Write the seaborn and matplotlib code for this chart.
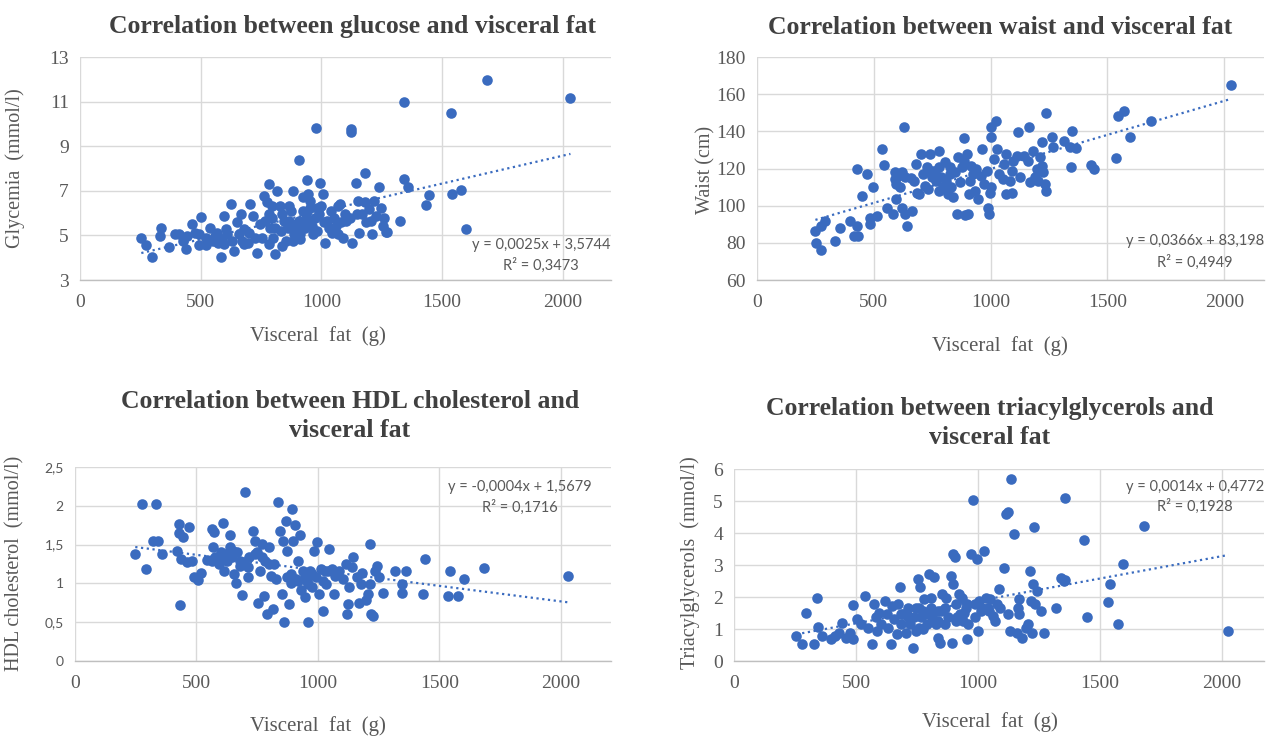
import numpy as np
import pandas as pd
import matplotlib
matplotlib.use("Agg")
import matplotlib.pyplot as plt
import seaborn as sns

# ---------------- data ----------------
glucose_x = [1687, 2032, 1344, 1536, 976, 1122, 1122, 907, 1179, 1344, 1361, 1444, 1540, 1579, 1433, 1600, 1325, 1268,
             254, 274, 297, 337, 330, 368, 411, 425, 440, 466, 477, 502, 491, 520, 537, 559, 573, 584, 595, 606,
             624, 630, 637, 652, 669, 680, 695, 706, 716, 735, 745, 764, 774, 784, 781, 788, 798, 809, 817, 827,
             838, 845, 860, 874, 881, 888, 907, 917, 924, 941, 946, 951, 953, 964, 974, 993, 999, 1005, 1010, 1017,
             1032, 1053, 1068, 1079, 1089, 1104, 1118, 1128, 1142, 1151, 1157, 1168, 1179, 1185, 1197, 1211, 1218,
             1228, 1237, 1247, 1254, 1271, 1261,
             566, 588, 609, 659, 673, 702, 723, 752, 766, 795, 809, 831, 853, 867, 881, 896, 910, 924, 931, 938,
             961, 982, 989, 1024, 1046, 1060, 1082, 1096, 853, 881, 910, 781, 680, 552, 595, 494, 523, 444, 394,
             795, 838, 867, 924, 953, 982, 1039, 1068, 1147, 1204]
glucose_y = [11.97, 11.16, 10.97, 10.48, 9.8, 9.77, 9.62, 8.38, 7.81, 7.52, 7.15, 6.8, 6.85, 7.05, 6.36, 5.28, 5.65, 5.16,
             4.87, 4.57, 4.03, 5.31, 4.98, 4.48, 5.08, 4.75, 4.38, 5.53, 5.13, 5.83, 4.57, 4.57, 5.35, 4.98, 4.68, 4.03,
             5.88, 5.28, 6.4, 4.75, 4.3, 5.58, 5.95, 5.28, 4.68, 6.43, 5.88, 4.22, 5.5, 6.78, 6.48, 7.3, 5.95, 5.35,
             4.9, 4.15, 6.99, 6.33, 4.53, 5.65, 5.35, 6.1, 6.99, 5.05, 5.65, 5.35, 6.1, 7.48, 6.85, 6.25, 5.65, 5.05,
             5.8, 7.37, 6.33, 6.85, 5.58, 4.68, 5.35, 5.8, 5.05, 6.4, 4.9, 5.65, 5.8, 4.68, 7.33, 6.55, 5.13, 5.95,
             6.48, 5.58, 6.18, 5.05, 6.55, 5.88, 7.18, 6.25, 5.43, 5.17, 5.8,
             5.13, 4.83, 5.05, 5.05, 4.75, 5.13, 4.9, 4.9, 5.65, 5.8, 5.35, 5.2, 5.58, 5.65, 5.35, 5.5, 5.05, 5.58,
             5.35, 5.95, 5.43, 5.2, 5.95, 5.65, 5.13, 5.43, 5.58, 5.95, 4.75, 4.75, 4.83, 4.6, 4.6, 4.75, 4.6, 5.05,
             4.9, 4.98, 5.05, 6.33, 5.95, 6.33, 6.7, 6.55, 6.25, 6.1, 6.33, 5.95, 5.65]

waist_x = [2030, 1686, 1572, 1545, 1595, 1537, 1237, 1348, 1343, 1431, 1443, 1313, 1340, 1367, 1264, 1269, 1218,
           1024, 1003, 1003, 1165, 1119, 631, 536, 543, 429, 470, 498, 448,
           293, 276, 250, 252, 276, 335, 357, 399, 414, 432, 429, 482, 482, 513, 558, 582, 593, 589, 589, 596,
           619, 611, 634, 640, 665, 658, 685, 681, 704, 719,
           734, 750, 742, 762, 777, 780, 777, 795, 804, 810, 819, 824, 839, 854, 869, 884, 884, 897, 907, 912,
           923, 932, 938, 892, 903, 944, 957, 964, 973, 983, 987, 994, 999, 1003, 1014, 1029, 1052, 1059, 1064, 1067,
           1090, 1090, 1097, 1112, 1124, 1142, 1158, 1170, 1181, 1188, 1200, 1211, 1221, 1226, 1234, 1237, 1203,
           710, 726, 750, 765, 788, 824, 831, 846, 861, 876, 915, 672, 695, 634, 619, 604, 1036, 1082]
waist_y = [164.7, 145.8, 151.2, 148, 136.8, 125.6, 149.7, 140, 121, 122, 119.7, 135, 131.8, 131, 136.8, 131.4, 134,
           145.4, 142.6, 136.8, 142.2, 139.5, 142.6, 130.5, 122, 119.9, 117, 109.8, 105.3,
           91.8, 89.1, 86.4, 80, 76, 81, 88.2, 91.8, 83.7, 83.7, 89, 90, 93.6, 94.5, 99, 95.4, 103.5, 114.3, 117.9,
           111.6, 99, 110, 95.4, 89.1, 97.2, 114.8, 107, 122.4, 127.8, 110.7,
           109, 115.2, 127.8, 118.8, 129.6, 120.6, 108, 109.8, 123.3, 113.4, 106.2, 117, 104.4, 95.4, 112.5, 124.2,
           136.3, 128, 106.2, 113.4,
           117, 108, 119.7, 95, 95.4, 103.5, 116, 130.5, 111.6, 118.8, 99, 95.4, 107, 109.8, 125.1, 130.5, 114.3,
           122.4, 127.8, 106.2,
           107, 118.8, 124.2, 126.9, 115.2, 126.9, 124.2, 112.5, 129.6, 115.2, 119.7, 126, 121.5, 118, 111.6, 108,
           113.4,
           117, 120.6, 118.8, 113.4, 115.2, 120.6, 109.8, 117.9, 126, 120.6, 121.5, 113.4, 106.2, 115.2, 118, 116,
           117, 113.4]

hdl_x = [248, 274, 333, 293, 322, 340, 358, 419, 429, 429, 444, 436, 433, 470, 461, 481, 491, 506, 518, 544,
         562, 574, 569, 577, 592, 599, 609, 614, 624, 636, 636, 648, 654, 663, 666, 678, 688, 698, 695, 710,
         717, 732, 740, 747, 754, 762, 769, 776, 784, 791, 799, 806, 813, 821, 828, 835, 843, 850, 858, 862,
         869, 872, 880, 887, 895, 899, 905, 909, 917, 924, 932, 939, 947, 954, 961, 969, 976, 983, 991, 998,
         1006, 1013, 1021, 1028, 1035, 1047, 1058, 1065, 1072, 1087, 1102, 1117, 1121, 1124, 1127, 1139, 1146,
         1161, 1168, 1176, 1183, 1198, 1205, 1213, 1216, 1220, 1228, 1235, 1242, 1250, 1269, 1316, 1346, 1361,
         1346, 1432, 1442, 1535, 1543, 1576, 1601, 1683, 2029, 917, 947, 961, 976, 1021, 1043, 1080,
         887, 872, 799, 769, 740, 710, 680, 651, 621, 592, 562]
hdl_y = [1.38, 2.02, 2.02, 1.19, 1.54, 1.54, 1.38, 1.42, 1.65, 1.77, 1.6, 1.31, 0.72, 1.73, 1.28, 1.29, 1.08, 1.04,
         1.14, 1.3, 1.70, 1.66, 1.47, 1.34, 1.25, 1.4, 1.78, 1.16, 1.29, 1.62, 1.47, 1.34, 1.12, 1.01, 1.4, 1.23,
         0.85, 2.18, 1.27, 1.08, 1.34, 1.68, 1.55, 1.4, 0.75, 1.16, 1.51, 0.84, 1.29, 0.6, 1.47, 1.1, 0.67, 1.25,
         1.06, 2.05, 1.68, 0.86, 1.55, 0.5, 1.81, 1.42, 0.73, 1.12, 1.96, 1.55, 1.75, 1.06, 1.29, 1.62, 0.91,
         1.16, 0.82, 1.03, 0.5, 1.16, 0.95, 1.42, 1.08, 1.53, 0.86, 1.19, 0.65, 1.16, 0.99, 1.44, 1.19, 0.86,
         1.1, 1.16, 1.06, 1.25, 0.6, 0.73, 0.95, 1.21, 1.34, 1.08, 0.75, 0.99, 1.14, 0.78, 0.86, 0.99, 1.51,
         0.6, 0.58, 1.16, 1.23, 1.08, 0.88, 1.16, 0.99, 1.16, 0.88, 0.86, 1.31, 0.84, 1.16, 0.84, 1.06, 1.2,
         1.09, 1.03, 1.08, 0.99, 1.12, 1.03, 1.16, 1.14, 1.01, 1.08, 1.25, 1.34, 1.38, 1.21, 1.29, 1.42, 1.38,
         1.34, 1.29]

tag_x = [256, 279, 294, 327, 339, 346, 361, 399, 414, 429, 444, 459, 474, 486, 489, 505, 520, 538, 550, 565,
         572, 580, 587, 595, 602, 617, 625, 632, 643, 648, 655, 667, 673, 682, 685, 693, 703, 712, 723, 733,
         738, 745, 753, 758, 764, 768, 773, 779, 783, 791, 798, 806, 813, 821, 828, 836, 843, 848, 854, 863,
         869, 878, 889, 893, 896, 899, 904, 911, 914, 923, 934, 938, 941, 949, 953, 959, 971, 979, 986, 994,
         998, 1004, 1013, 1024, 1032, 1040, 1050, 1062, 1069, 1084, 1089, 1107, 1115, 1122, 1130, 1134, 1149,
         1160, 1164, 1167, 1170, 1182, 1197, 1205, 1213, 1216, 1220, 1224, 1231, 1235, 1240, 1257, 1270, 1318,
         1340, 1351, 1356, 1358, 1434, 1446, 1531, 1540, 1573, 1596, 1682, 2026, 836, 866, 926, 956, 986, 1016,
         1047, 1077, 806, 776, 745, 715, 685, 836, 911, 760, 1122]
tag_y = [0.78, 0.52, 1.51, 0.54, 1.98, 1.06, 0.78, 0.68, 0.78, 0.89, 1.2, 0.73, 0.89, 1.75, 0.68, 1.3, 1.15, 2.04,
         1.04, 0.52, 1.77, 1.36, 0.94, 1.51, 1.15, 1.88, 1.46, 1.04, 0.54, 1.72, 1.3, 0.84, 1.77, 2.32, 1.15, 1.46,
         0.89, 1.36, 1.15, 0.42, 1.36, 0.94, 2.56, 1.67, 2.3, 1.36, 0.99, 1.93, 1.46, 1.15, 2.71, 1.67, 1.36, 2.61,
         1.15, 0.73, 0.57, 1.57, 2.09, 1.15, 1.98, 1.36, 2.66, 0.57, 2.4, 3.34, 3.24, 1.77, 1.36, 2.09, 1.98, 1.25,
         1.51, 1.67, 0.68, 1.15, 3.34, 5.03, 1.36, 3.18, 0.94, 1.88, 1.57, 3.44, 1.98, 1.67, 1.93, 1.41, 1.25, 2.24,
         1.67, 2.92, 4.59, 1.46, 0.94, 5.69, 3.97, 0.89, 1.67, 1.93, 1.46, 0.73, 1.04, 1.15, 2.82, 1.88, 0.89, 2.4,
         4.18, 1.77, 2.19, 1.57, 0.89, 1.67, 2.59, 2.5, 5.09, 2.53, 3.78, 1.36, 1.83, 2.42, 1.15, 3.03, 4.23, 0.94,
         1.57, 1.67, 1.46, 1.77, 1.77, 1.67, 1.57, 1.77, 1.98, 1.57, 1.67, 1.67, 1.46, 1.25, 1.25, 1.04, 4.65]

titles = ["Correlation between glucose and visceral fat",
          "Correlation between waist and visceral fat",
          "Correlation between HDL cholesterol and\nvisceral fat",
          "Correlation between triacylglycerols and\nvisceral fat"]
y_labels = ["Glycemia  (mmol/l)", "Waist (cm)", "HDL cholesterol  (mmol/l)", "Triacylglycerols  (mmol/l)"]
x_label = "Visceral  fat  (g)"
slopes = [0.0025, 0.0366, -0.0004, 0.0014]
intercepts = [3.5744, 83.198, 1.5679, 0.4772]
eq_texts = ["y = 0,0025x + 3,5744", "y = 0,0366x + 83,198", "y = -0,0004x + 1,5679", "y = 0,0014x + 0,4772"]
r2_texts = ["R² = 0,3473", "R² = 0,4949", "R² = 0,1716", "R² = 0,1928"]
x_ticks = [0, 500, 1000, 1500, 2000]
y_ticks = [[3, 5, 7, 9, 11, 13], [60, 80, 100, 120, 140, 160, 180],
           [0, 0.5, 1, 1.5, 2, 2.5], [0, 1, 2, 3, 4, 5, 6]]
y_tick_labels = [["3", "5", "7", "9", "11", "13"], ["60", "80", "100", "120", "140", "160", "180"],
                 ["0", "0,5", "1", "1,5", "2", "2,5"], ["0", "1", "2", "3", "4", "5", "6"]]

# ---------------- style ----------------
sns.set_theme(style="white")
plt.rcParams["font.family"] = ["Liberation Serif", "DejaVu Serif"]

W, H = 1266, 738
fig = plt.figure(figsize=(W / 100, H / 100), dpi=100)
fig.patch.set_facecolor("white")

BLUE = "#3a6bbf"
GRID = "#d9d9d9"
TXT = "#595959"
TTL = "#404040"


def fx(x):
    return x / W


def fy(y):
    return 1 - y / H


# axes boxes in pixels: left, top, right, bottom ; xlim max
boxes = [(80, 57, 611, 280, 2200),
         (757, 57, 1264, 280, 2170),
         (75, 467, 611, 661, 2206),
         (734, 469, 1264, 661, 2172)]
datasets = [(glucose_x, glucose_y), (waist_x, waist_y), (hdl_x, hdl_y), (tag_x, tag_y)]
title_pos = [(353, 27), (1000, 27), (350, 416), (990, 423)]
xlabel_pos = [(318, 336), (1000, 346), (318, 726), (990, 722)]
ylabel_pos = [(15, 168), (706, 170), (15, 563), (690, 563)]
eq_pos = [(541, 245, 265), (1195, 241, 262), (520, 487, 507), (1195, 487, 506)]

for i in range(4):
    l, t, r, b, xmax = boxes[i]
    ax = fig.add_axes([fx(l), fy(b), fx(r - l), (b - t) / H])
    xs, ys = datasets[i]
    df = pd.DataFrame({"x": xs, "y": ys})
    sns.scatterplot(data=df, x="x", y="y", ax=ax, color=BLUE, s=58, linewidth=0, zorder=3)
    xline = np.array([min(xs), max(xs)], dtype=float)
    ax.plot(xline, slopes[i] * xline + intercepts[i], linestyle=(0, (1, 1.6)), color=BLUE,
            linewidth=1.6, zorder=4)
    ax.set_xlim(0, xmax)
    ax.set_ylim(y_ticks[i][0], y_ticks[i][-1])
    ax.set_xticks(x_ticks)
    ax.set_xticklabels([str(v) for v in x_ticks])
    ax.set_yticks(y_ticks[i])
    ax.set_yticklabels(y_tick_labels[i])
    ax.grid(True, color=GRID, linewidth=1.0, zorder=0)
    ax.set_axisbelow(True)
    for side in ["left", "right", "top"]:
        ax.spines[side].set_visible(False)
    ax.spines["bottom"].set_color("#bfbfbf")
    ax.spines["bottom"].set_linewidth(1.0)
    ax.tick_params(axis="both", length=0, colors=TXT, labelsize=14)
    ax.tick_params(axis="x", pad=10)
    ax.tick_params(axis="y", pad=8)
    if i == 2:
        for lab in ax.get_yticklabels():
            lab.set_fontfamily(["Lato", "DejaVu Sans"])
            lab.set_fontsize(10)
    ax.set_xlabel("")
    ax.set_ylabel("")

    fig.text(fx(title_pos[i][0]), fy(title_pos[i][1]), titles[i], ha="center", va="center",
             fontsize=18.5, fontweight="bold", color=TTL, linespacing=1.38)
    fig.text(fx(xlabel_pos[i][0]), fy(xlabel_pos[i][1]), x_label, ha="center", va="center",
             fontsize=15, color=TXT)
    fig.text(fx(ylabel_pos[i][0]), fy(ylabel_pos[i][1]), y_labels[i], ha="center", va="center",
             rotation=90, fontsize=14.5, color=TXT)
    ex, ey1, ey2 = eq_pos[i]
    fig.text(fx(ex), fy(ey1), eq_texts[i], ha="center", va="center", fontsize=10.5, color=TXT,
             family=["Lato", "DejaVu Sans"])
    fig.text(fx(ex), fy(ey2), r2_texts[i], ha="center", va="center", fontsize=10.5, color=TXT,
             family=["Lato", "DejaVu Sans"])

fig.savefig("out.png", dpi=100, facecolor="white")
